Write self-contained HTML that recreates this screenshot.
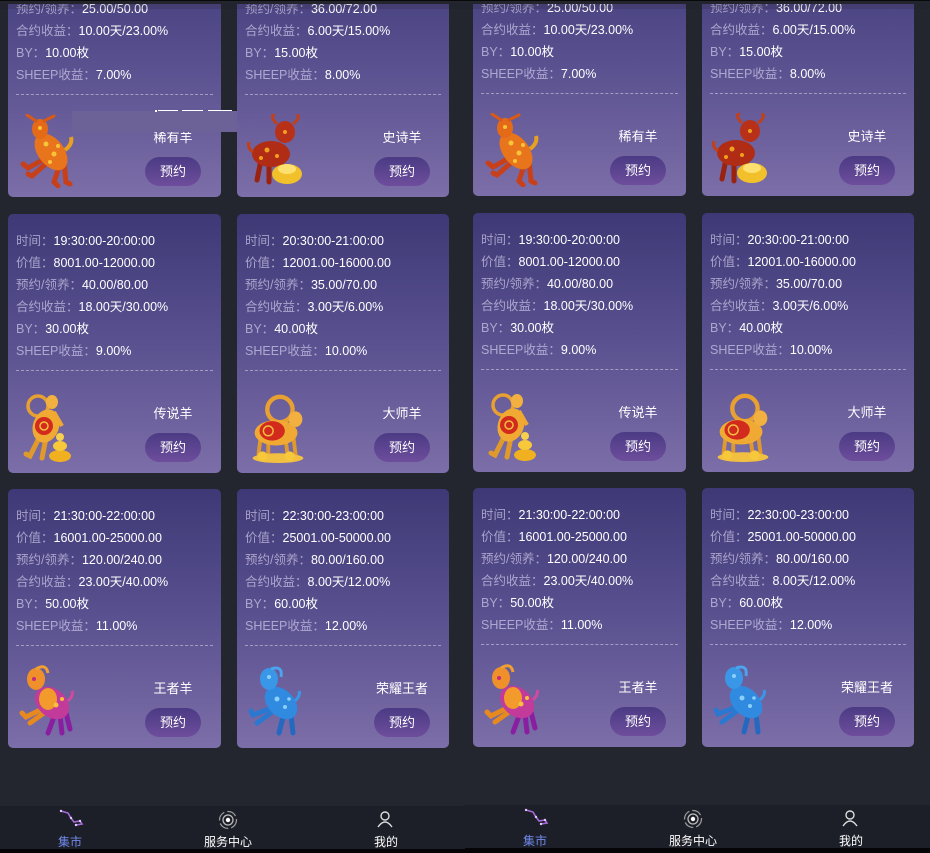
<!DOCTYPE html>
<html><head><meta charset="utf-8">
<style>
*{margin:0;padding:0;box-sizing:border-box}
html,body{width:930px;height:853px;overflow:hidden;background:#23262e;font-family:"Liberation Sans","Noto Sans CJK SC",sans-serif;}
.half{position:absolute;top:0;width:465px;height:853px;overflow:hidden;background:#23262e}
.card{position:absolute;height:259px;border-radius:5px;background:linear-gradient(180deg,#3e3976 0%,#5a5190 50%,#7c6ea8 100%);overflow:hidden}
.rows{position:absolute;left:8px;top:16px;font-size:12.5px;line-height:22px;color:#fff;white-space:nowrap}
.l{color:rgba(225,220,245,0.62)}
.dash{position:absolute;left:8px;right:8px;top:156px;border-top:1px dashed rgba(255,255,255,0.42)}
.name{position:absolute;left:125px;width:80px;top:191px;text-align:center;font-size:13px;line-height:18px;color:#fff;white-space:nowrap}
.btn{position:absolute;left:137px;top:219px;width:56px;height:29px;border-radius:15px;background:linear-gradient(180deg,#4b3b84,#6d4d9c);color:#fff;font-size:13px;line-height:29px;text-align:center}
.sheep{position:absolute;left:9px;top:176px;width:58px;height:74px}
.nav{position:absolute;left:0;width:465px;height:43px;background:#1c1f27}
.blk{position:absolute;left:0;width:465px;height:6px;background:#050507}
.nl{position:absolute;font-size:12px;line-height:14px;color:#fff;text-align:center;width:80px;white-space:nowrap}
.topk{position:absolute;left:0;top:0;width:930px;height:1px;background:#08080a}
.topd{position:absolute;left:0;top:1px;width:930px;height:3px;background:#23252d}
.tops{position:absolute;left:0;top:4px;width:930px;height:5px;background:rgba(25,25,40,0.18)}
</style></head><body>

<svg width="0" height="0" style="position:absolute">
<defs>
<symbol id="g1" viewBox="0 0 56 74">
<path d="M28 44 L10 54 L5 50 M30 48 L14 62 L10 60" stroke="#c8401a" stroke-width="5" fill="none" stroke-linecap="round"/>
<path d="M42 50 L36 68 L40 72 M46 48 L48 68 L52 70" stroke="#c8401a" stroke-width="5" fill="none" stroke-linecap="round"/>
<ellipse cx="33" cy="38" rx="13" ry="21" transform="rotate(-38 33 38)" fill="#e8741c"/>
<ellipse cx="22" cy="15" rx="8" ry="10" fill="#e46a18"/>
<path d="M18 7 L9 1 M26 7 L36 2" stroke="#d85a16" stroke-width="3" stroke-linecap="round"/>
<path d="M47 36 Q55 30 53 23" stroke="#e8a020" stroke-width="4" fill="none"/>
<circle cx="28" cy="30" r="2.5" fill="#f8c43a"/><circle cx="36" cy="40" r="2.5" fill="#f8c43a"/><circle cx="32" cy="48" r="2" fill="#f8c43a"/><circle cx="40" cy="32" r="2" fill="#f8c43a"/><circle cx="22" cy="14" r="2" fill="#f8c43a"/>
</symbol>
<symbol id="g2" viewBox="0 0 56 74">
<path d="M14 46 L10 66 M22 48 L22 68 M34 48 L36 66" stroke="#9a2210" stroke-width="5" fill="none" stroke-linecap="round"/>
<ellipse cx="24" cy="40" rx="19" ry="13" fill="#b02c14"/>
<ellipse cx="38" cy="18" rx="10" ry="11" fill="#b83018"/>
<path d="M30 10 Q22 2 28 0 M46 10 Q54 4 50 0" stroke="#c0401a" stroke-width="3" fill="none"/>
<path d="M6 38 Q0 34 2 28" stroke="#c0401a" stroke-width="3" fill="none"/>
<circle cx="20" cy="36" r="2.5" fill="#f0a020"/><circle cx="30" cy="42" r="2" fill="#f0a020"/><circle cx="14" cy="44" r="2" fill="#f0a020"/><circle cx="38" cy="18" r="2" fill="#f0a020"/>
<ellipse cx="40" cy="60" rx="15" ry="10" fill="#f2c02a"/>
<ellipse cx="40" cy="55" rx="9" ry="5" fill="#fde070"/>
</symbol>
<symbol id="g3" viewBox="0 0 56 74">
<circle cx="20" cy="16" r="10" stroke="#e8a030" stroke-width="3.5" fill="none"/>
<path d="M22 46 L12 66 L8 64 M28 48 L24 68" stroke="#e09a2c" stroke-width="5" fill="none" stroke-linecap="round"/>
<ellipse cx="28" cy="36" rx="13" ry="17" transform="rotate(20 28 36)" fill="#f0aa34"/>
<ellipse cx="26" cy="36" rx="9" ry="9" fill="#d22a1c"/>
<circle cx="26" cy="36" r="4" stroke="#f4c040" stroke-width="1.5" fill="none"/>
<ellipse cx="34" cy="12" rx="6" ry="7" fill="#f2b040"/>
<path d="M36 22 L44 36" stroke="#f0a830" stroke-width="4"/>
<ellipse cx="42" cy="66" rx="11" ry="6" fill="#f0b020"/>
<ellipse cx="42" cy="56" rx="7" ry="5" fill="#f6c83a"/>
<ellipse cx="42" cy="47" rx="4" ry="4" fill="#f8d050"/>
</symbol>
<symbol id="g4" viewBox="0 0 64 76">
<circle cx="34" cy="20" r="13" stroke="#e8a030" stroke-width="4.5" fill="none"/>
<path d="M14 50 L12 66 M22 52 L22 68 M40 52 L42 68 M48 50 L50 66" stroke="#e09a2c" stroke-width="4" fill="none" stroke-linecap="round"/>
<ellipse cx="30" cy="44" rx="22" ry="13" fill="#f0aa34"/>
<ellipse cx="26" cy="42" rx="13" ry="10" fill="#d22a1c"/>
<circle cx="22" cy="42" r="5" stroke="#f4c040" stroke-width="1.5" fill="none"/>
<ellipse cx="50" cy="30" rx="7" ry="8" fill="#f2b040"/>
<ellipse cx="32" cy="70" rx="26" ry="5" fill="#f2c040"/>
<circle cx="16" cy="68" r="5" fill="#f6c83a"/><circle cx="44" cy="68" r="5" fill="#f6c83a"/>
</symbol>
<symbol id="g5" viewBox="0 0 56 74">
<path d="M24 44 L8 52 L4 48 M26 48 L12 58" stroke="#e68a20" stroke-width="5" fill="none" stroke-linecap="round"/>
<path d="M36 52 L30 68 M42 50 L44 68 M48 48 L52 64" stroke="#8a1ea0" stroke-width="5" fill="none" stroke-linecap="round"/>
<ellipse cx="34" cy="38" rx="14" ry="19" transform="rotate(-50 34 38)" fill="#c23a9a"/>
<ellipse cx="30" cy="34" rx="9" ry="11" fill="#f29a2c"/>
<ellipse cx="18" cy="14" rx="9" ry="11" fill="#f0902a"/>
<path d="M18 4 Q28 -2 30 8" stroke="#f0a030" stroke-width="3" fill="none"/>
<circle cx="38" cy="40" r="2.5" fill="#f6c040"/><circle cx="44" cy="34" r="2" fill="#f6c040"/><circle cx="16" cy="14" r="2" fill="#c02a80"/>
<path d="M50 36 Q56 30 54 26" stroke="#d04aa0" stroke-width="3" fill="none"/>
</symbol>
<symbol id="g6" viewBox="0 0 56 74">
<path d="M22 44 L6 50 L4 46 M24 48 L10 58" stroke="#2a78d0" stroke-width="5" fill="none" stroke-linecap="round"/>
<path d="M36 52 L32 68 M44 50 L46 68" stroke="#2468c0" stroke-width="5" fill="none" stroke-linecap="round"/>
<ellipse cx="34" cy="38" rx="13" ry="19" transform="rotate(-45 34 38)" fill="#2f8ae0"/>
<ellipse cx="22" cy="14" rx="9" ry="11" fill="#3a96e6"/>
<path d="M24 4 Q36 0 34 12" stroke="#4aa4ee" stroke-width="3" fill="none"/>
<circle cx="30" cy="34" r="2.5" fill="#8ad0fa"/><circle cx="38" cy="42" r="2" fill="#8ad0fa"/><circle cx="22" cy="12" r="2" fill="#8ad0fa"/><circle cx="42" cy="34" r="1.8" fill="#8ad0fa"/>
<path d="M48 36 Q54 30 52 26" stroke="#3a96e6" stroke-width="3" fill="none"/>
</symbol>
</defs>
</svg>

<!-- LEFT HALF -->
<div class="half" style="left:0">
  <div class="card" style="left:8px;top:-62px;width:213px">
    <div class="rows">
      <div><span class="l">时间：</span>17:30:00-18:00:00</div>
      <div><span class="l">价值：</span>1001.00-4000.00</div>
      <div><span class="l">预约/领养：</span>25.00/50.00</div>
      <div><span class="l">合约收益：</span>10.00天/23.00%</div>
      <div><span class="l">BY：</span>10.00枚</div>
      <div><span class="l">SHEEP收益：</span>7.00%</div>
    </div>
    <div class="dash"></div>
    <svg class="sheep"><use href="#g1"/></svg>
    <div class="name">稀有羊</div>
    <div class="btn">预约</div>
  </div>
  <div class="card" style="left:237px;top:-62px;width:212px">
    <div class="rows">
      <div><span class="l">时间：</span>18:30:00-19:00:00</div>
      <div><span class="l">价值：</span>4001.00-8000.00</div>
      <div><span class="l">预约/领养：</span>36.00/72.00</div>
      <div><span class="l">合约收益：</span>6.00天/15.00%</div>
      <div><span class="l">BY：</span>15.00枚</div>
      <div><span class="l">SHEEP收益：</span>8.00%</div>
    </div>
    <div class="dash"></div>
    <svg class="sheep"><use href="#g2"/></svg>
    <div class="name">史诗羊</div>
    <div class="btn">预约</div>
  </div>

  <div class="card" style="left:8px;top:214px;width:213px">
    <div class="rows">
      <div><span class="l">时间：</span>19:30:00-20:00:00</div>
      <div><span class="l">价值：</span>8001.00-12000.00</div>
      <div><span class="l">预约/领养：</span>40.00/80.00</div>
      <div><span class="l">合约收益：</span>18.00天/30.00%</div>
      <div><span class="l">BY：</span>30.00枚</div>
      <div><span class="l">SHEEP收益：</span>9.00%</div>
    </div>
    <div class="dash"></div>
    <svg class="sheep"><use href="#g3"/></svg>
    <div class="name">传说羊</div>
    <div class="btn">预约</div>
  </div>
  <div class="card" style="left:237px;top:214px;width:212px">
    <div class="rows">
      <div><span class="l">时间：</span>20:30:00-21:00:00</div>
      <div><span class="l">价值：</span>12001.00-16000.00</div>
      <div><span class="l">预约/领养：</span>35.00/70.00</div>
      <div><span class="l">合约收益：</span>3.00天/6.00%</div>
      <div><span class="l">BY：</span>40.00枚</div>
      <div><span class="l">SHEEP收益：</span>10.00%</div>
    </div>
    <div class="dash"></div>
    <svg class="sheep" style="left:8px;width:66px"><use href="#g4"/></svg>
    <div class="name">大师羊</div>
    <div class="btn">预约</div>
  </div>

  <div class="card" style="left:8px;top:489px;width:213px">
    <div class="rows">
      <div><span class="l">时间：</span>21:30:00-22:00:00</div>
      <div><span class="l">价值：</span>16001.00-25000.00</div>
      <div><span class="l">预约/领养：</span>120.00/240.00</div>
      <div><span class="l">合约收益：</span>23.00天/40.00%</div>
      <div><span class="l">BY：</span>50.00枚</div>
      <div><span class="l">SHEEP收益：</span>11.00%</div>
    </div>
    <div class="dash"></div>
    <svg class="sheep"><use href="#g5"/></svg>
    <div class="name">王者羊</div>
    <div class="btn">预约</div>
  </div>
  <div class="card" style="left:237px;top:489px;width:212px">
    <div class="rows">
      <div><span class="l">时间：</span>22:30:00-23:00:00</div>
      <div><span class="l">价值：</span>25001.00-50000.00</div>
      <div><span class="l">预约/领养：</span>80.00/160.00</div>
      <div><span class="l">合约收益：</span>8.00天/12.00%</div>
      <div><span class="l">BY：</span>60.00枚</div>
      <div><span class="l">SHEEP收益：</span>12.00%</div>
    </div>
    <div class="dash"></div>
    <svg class="sheep"><use href="#g6"/></svg>
    <div class="name">荣耀王者</div>
    <div class="btn">预约</div>
  </div>

  <!-- artifact overlay -->
  <div style="position:absolute;left:72px;top:111px;width:165px;height:21px;background:#6c6298"></div>
  <div style="position:absolute;left:155px;top:110px;width:2px;height:2px;background:#fff"></div>
  <div style="position:absolute;left:158px;top:110px;width:20px;height:1px;background:#fff"></div>
  <div style="position:absolute;left:182px;top:110px;width:21px;height:1px;background:#fff"></div>
  <div style="position:absolute;left:208px;top:110px;width:24px;height:1px;background:#fff"></div>

  <div class="nav" style="top:806px"></div>
  <div class="blk" style="top:849px"></div>
  <svg style="position:absolute;left:58px;top:808px" width="28" height="20" viewBox="0 0 28 20">
    <polyline points="3,3 10,5 13,10 16,14 22,13 24,16 18,17" stroke="#a56ad8" stroke-width="1.6" fill="none"/>
    <circle cx="3" cy="3" r="1.2" fill="#e0c8ff"/><circle cx="13" cy="10" r="1.2" fill="#e0c8ff"/><circle cx="22" cy="13" r="1.2" fill="#e0c8ff"/><circle cx="18" cy="17" r="1.2" fill="#e0c8ff"/>
  </svg>
  <div class="nl" style="left:30px;top:835px;color:#7189ec">集市</div>
  <svg style="position:absolute;left:217px;top:809px" width="22" height="22" viewBox="0 0 22 22">
    <circle cx="11" cy="11" r="2.2" fill="#fff"/>
    <circle cx="11" cy="11" r="5" stroke="#bbb" stroke-width="1.3" fill="none"/>
    <circle cx="11" cy="11" r="8.5" stroke="#999" stroke-width="1.3" fill="none" stroke-dasharray="10 3"/>
  </svg>
  <div class="nl" style="left:188px;top:835px">服务中心</div>
  <svg style="position:absolute;left:376px;top:810px" width="18" height="18" viewBox="0 0 18 18">
    <circle cx="9" cy="6" r="4" stroke="#ddd" stroke-width="1.4" fill="none"/>
    <path d="M2 17 Q9 7 16 17" stroke="#ddd" stroke-width="1.4" fill="none"/>
  </svg>
  <div class="nl" style="left:346px;top:835px">我的</div>
</div>

<!-- RIGHT HALF -->
<div class="half" style="left:465px">
  <div class="card" style="left:8px;top:-63px;width:213px">
    <div class="rows">
      <div><span class="l">时间：</span>17:30:00-18:00:00</div>
      <div><span class="l">价值：</span>1001.00-4000.00</div>
      <div><span class="l">预约/领养：</span>25.00/50.00</div>
      <div><span class="l">合约收益：</span>10.00天/23.00%</div>
      <div><span class="l">BY：</span>10.00枚</div>
      <div><span class="l">SHEEP收益：</span>7.00%</div>
    </div>
    <div class="dash"></div>
    <svg class="sheep"><use href="#g1"/></svg>
    <div class="name">稀有羊</div>
    <div class="btn">预约</div>
  </div>
  <div class="card" style="left:237px;top:-63px;width:212px">
    <div class="rows">
      <div><span class="l">时间：</span>18:30:00-19:00:00</div>
      <div><span class="l">价值：</span>4001.00-8000.00</div>
      <div><span class="l">预约/领养：</span>36.00/72.00</div>
      <div><span class="l">合约收益：</span>6.00天/15.00%</div>
      <div><span class="l">BY：</span>15.00枚</div>
      <div><span class="l">SHEEP收益：</span>8.00%</div>
    </div>
    <div class="dash"></div>
    <svg class="sheep"><use href="#g2"/></svg>
    <div class="name">史诗羊</div>
    <div class="btn">预约</div>
  </div>

  <div class="card" style="left:8px;top:213px;width:213px">
    <div class="rows">
      <div><span class="l">时间：</span>19:30:00-20:00:00</div>
      <div><span class="l">价值：</span>8001.00-12000.00</div>
      <div><span class="l">预约/领养：</span>40.00/80.00</div>
      <div><span class="l">合约收益：</span>18.00天/30.00%</div>
      <div><span class="l">BY：</span>30.00枚</div>
      <div><span class="l">SHEEP收益：</span>9.00%</div>
    </div>
    <div class="dash"></div>
    <svg class="sheep"><use href="#g3"/></svg>
    <div class="name">传说羊</div>
    <div class="btn">预约</div>
  </div>
  <div class="card" style="left:237px;top:213px;width:212px">
    <div class="rows">
      <div><span class="l">时间：</span>20:30:00-21:00:00</div>
      <div><span class="l">价值：</span>12001.00-16000.00</div>
      <div><span class="l">预约/领养：</span>35.00/70.00</div>
      <div><span class="l">合约收益：</span>3.00天/6.00%</div>
      <div><span class="l">BY：</span>40.00枚</div>
      <div><span class="l">SHEEP收益：</span>10.00%</div>
    </div>
    <div class="dash"></div>
    <svg class="sheep" style="left:8px;width:66px"><use href="#g4"/></svg>
    <div class="name">大师羊</div>
    <div class="btn">预约</div>
  </div>

  <div class="card" style="left:8px;top:488px;width:213px">
    <div class="rows">
      <div><span class="l">时间：</span>21:30:00-22:00:00</div>
      <div><span class="l">价值：</span>16001.00-25000.00</div>
      <div><span class="l">预约/领养：</span>120.00/240.00</div>
      <div><span class="l">合约收益：</span>23.00天/40.00%</div>
      <div><span class="l">BY：</span>50.00枚</div>
      <div><span class="l">SHEEP收益：</span>11.00%</div>
    </div>
    <div class="dash"></div>
    <svg class="sheep"><use href="#g5"/></svg>
    <div class="name">王者羊</div>
    <div class="btn">预约</div>
  </div>
  <div class="card" style="left:237px;top:488px;width:212px">
    <div class="rows">
      <div><span class="l">时间：</span>22:30:00-23:00:00</div>
      <div><span class="l">价值：</span>25001.00-50000.00</div>
      <div><span class="l">预约/领养：</span>80.00/160.00</div>
      <div><span class="l">合约收益：</span>8.00天/12.00%</div>
      <div><span class="l">BY：</span>60.00枚</div>
      <div><span class="l">SHEEP收益：</span>12.00%</div>
    </div>
    <div class="dash"></div>
    <svg class="sheep"><use href="#g6"/></svg>
    <div class="name">荣耀王者</div>
    <div class="btn">预约</div>
  </div>

  <div class="nav" style="top:805px"></div>
  <div class="blk" style="top:848px;height:5px"></div>
  <svg style="position:absolute;left:58px;top:807px" width="28" height="20" viewBox="0 0 28 20">
    <polyline points="3,3 10,5 13,10 16,14 22,13 24,16 18,17" stroke="#a56ad8" stroke-width="1.6" fill="none"/>
    <circle cx="3" cy="3" r="1.2" fill="#e0c8ff"/><circle cx="13" cy="10" r="1.2" fill="#e0c8ff"/><circle cx="22" cy="13" r="1.2" fill="#e0c8ff"/><circle cx="18" cy="17" r="1.2" fill="#e0c8ff"/>
  </svg>
  <div class="nl" style="left:30px;top:834px;color:#7189ec">集市</div>
  <svg style="position:absolute;left:217px;top:808px" width="22" height="22" viewBox="0 0 22 22">
    <circle cx="11" cy="11" r="2.2" fill="#fff"/>
    <circle cx="11" cy="11" r="5" stroke="#bbb" stroke-width="1.3" fill="none"/>
    <circle cx="11" cy="11" r="8.5" stroke="#999" stroke-width="1.3" fill="none" stroke-dasharray="10 3"/>
  </svg>
  <div class="nl" style="left:188px;top:834px">服务中心</div>
  <svg style="position:absolute;left:376px;top:809px" width="18" height="18" viewBox="0 0 18 18">
    <circle cx="9" cy="6" r="4" stroke="#ddd" stroke-width="1.4" fill="none"/>
    <path d="M2 17 Q9 7 16 17" stroke="#ddd" stroke-width="1.4" fill="none"/>
  </svg>
  <div class="nl" style="left:346px;top:834px">我的</div>
</div>

<div class="topk"></div>
<div class="topd"></div>
<div class="tops"></div>
</body></html>
